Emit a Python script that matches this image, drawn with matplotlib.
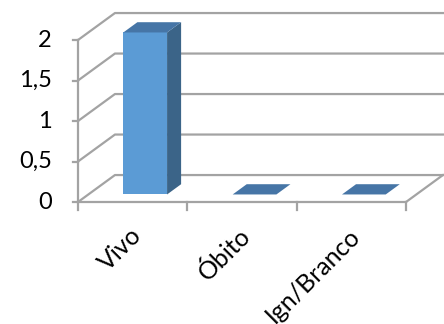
import matplotlib
matplotlib.use("Agg")
import matplotlib.pyplot as plt
from matplotlib.patches import Polygon
import numpy as np

categories = ["Vivo", "Óbito", "Ign/Branco"]
values = [2, 0, 0]
yticks = [0, 0.5, 1, 1.5, 2]
ytick_labels = ["0", "0,5", "1", "1,5", "2"]

# oblique projection of the depth axis (data units)
ddx, ddy = 0.338, 0.333
d0, d1 = 0.28, 0.66      # bar depth span
bw = 0.4                 # bar width

def proj(x, y, d):
    return (x + d * ddx, y + d * ddy)

fig = plt.figure(figsize=(4.44, 3.24), dpi=100)
ax = fig.add_axes([0, 0, 1, 1])
ax.set_xlim(-0.7134, 3.3476)
ax.set_ylim(-1.506, 2.494)
ax.axis("off")

grid = "#a3a3a3"
lw = 1.6
n = len(categories)

# walls / gridlines
for v in yticks:
    p0 = proj(0, v, 0)
    p1 = proj(0, v, 1)
    p2 = proj(n, v, 1)
    ax.plot([p0[0], p1[0], p2[0]], [p0[1], p1[1], p2[1]], color=grid, lw=lw, zorder=1)
    ax.plot([-0.046, 0], [v, v], color=grid, lw=lw, zorder=1)
# front axis, floor
ax.plot([0, 0], [0, max(yticks)], color=grid, lw=lw, zorder=1)
ax.plot([0, n], [0, 0], color=grid, lw=lw, zorder=1)
pr = proj(n, 0, 1)
ax.plot([n, pr[0]], [0, pr[1]], color=grid, lw=lw, zorder=1)
for i in range(n + 1):
    ax.plot([i, i], [0, -0.1], color=grid, lw=lw, zorder=1)

front_c, side_c, top_c = "#5b9bd5", "#3b6488", "#4675a6"
for i, v in enumerate(values):
    xl = i + 0.5 - bw / 2 + 0.02
    xr = xl + bw
    if v > 0:
        front = [proj(xl, 0, d0), proj(xr, 0, d0), proj(xr, v, d0), proj(xl, v, d0)]
        side = [proj(xr, 0, d0), proj(xr, 0, d1), proj(xr, v, d1), proj(xr, v, d0)]
        ax.add_patch(Polygon(front, closed=True, fc=front_c, ec="none", zorder=3))
        ax.add_patch(Polygon(side, closed=True, fc=side_c, ec="none", zorder=3))
    top = [proj(xl, v, d0), proj(xr, v, d0), proj(xr, v, d1), proj(xl, v, d1)]
    ax.add_patch(Polygon(top, closed=True, fc=top_c, ec="none", zorder=3))

font = "Lato"
for v, lab in zip(yticks, ytick_labels):
    ax.text(-0.238, v, lab, ha="right", va="center", fontsize=17, family=font)

for i, lab in enumerate(categories):
    ax.text(i + 0.47, -0.27, lab, ha="right", va="top", rotation=45,
            rotation_mode="anchor", fontsize=18, family=font)

fig.savefig("out.png", dpi=100)
